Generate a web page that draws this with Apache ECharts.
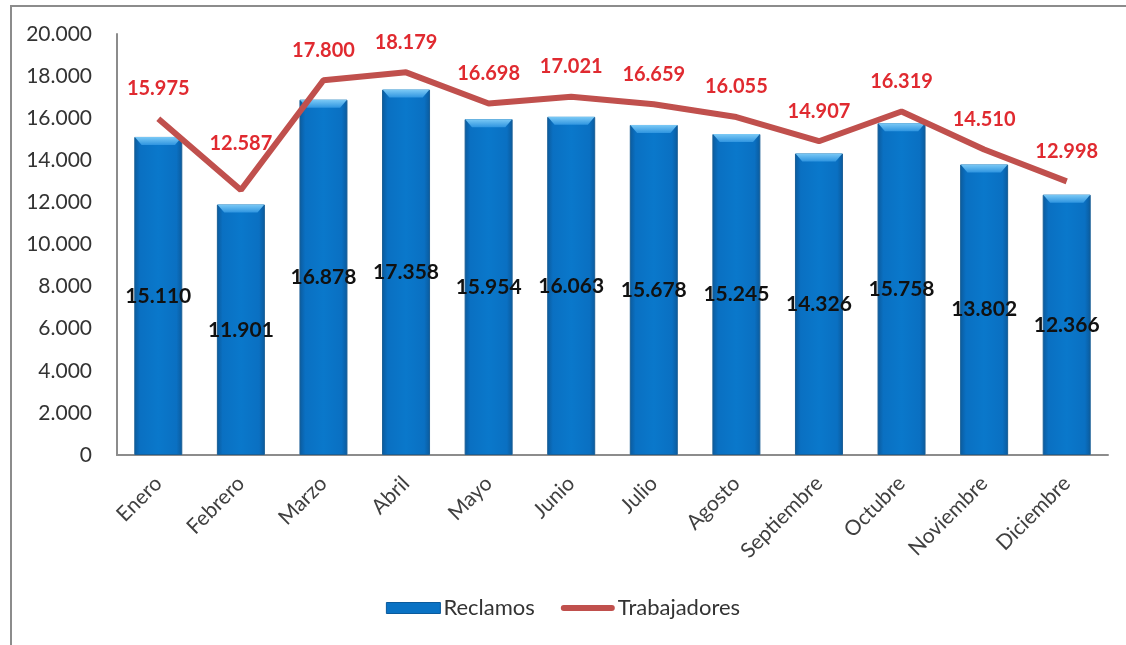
<!DOCTYPE html>
<html>
<head>
<meta charset="utf-8">
<script src="https://cdn.jsdelivr.net/npm/echarts@6/dist/echarts.min.js"></script>
<style>
  html, body { margin: 0; padding: 0; background: #fff; }
  .frame {
    position: absolute; left: 10px; top: 5px; width: 1116px; height: 640px;
    border-left: 2px solid #8c8c8c; border-top: 2px solid #8c8c8c; box-sizing: border-box;
  }
  #main { position: absolute; left: 0; top: 0; width: 1126px; height: 645px; }
</style>
</head>
<body>
<div class="frame"></div>
<div id="main"></div>
<script>
// datos del gráfico
var meses = ['Enero', 'Febrero', 'Marzo', 'Abril', 'Mayo', 'Junio', 'Julio', 'Agosto', 'Septiembre', 'Octubre', 'Noviembre', 'Diciembre']
var reclamos = [15110, 11901, 16878, 17358, 15954, 16063, 15678, 15245, 14326, 15758, 13802, 12366]
var trabajadores = [15975, 12587, 17800, 18179, 16698, 17021, 16659, 16055, 14907, 16319, 14510, 12998]

function fmt(v) {
  return String(v).replace(/\B(?=(\d{3})+(?!\d))/g, '.')
}

var myChart = echarts.init(document.getElementById('main'))

var barColor = new echarts.graphic.LinearGradient(0, 0, 1, 0, [
  { offset: 0, color: '#0b5a9c' },
  { offset: 0.12, color: '#0a70c2' },
  { offset: 0.5, color: '#0a78cb' },
  { offset: 0.88, color: '#0a70c2' },
  { offset: 1, color: '#0b5a9c' },
])

var option = {
  animation: false,
  textStyle: { fontFamily: 'Lato' },
  grid: { left: 117, right: 18, top: 34, bottom: 190 },
  legend: {
    top: 592,
    left: 'center',
    itemGap: 26,
    itemWidth: 54,
    itemHeight: 11,
    textStyle: { fontSize: 22, color: '#333', fontFamily: 'Lato', padding: [0, 0, 0, -2] },
    data: [
      { name: 'Reclamos', icon: 'rect', itemStyle: { color: '#0a72c4', borderColor: '#0b5a9c', borderWidth: 1 } },
      {
        name: 'Trabajadores',
        icon: 'path://M0,0 L0.01,0 L0,0.01 Z M3,2.5 L51,2.5 A3,3 0 0 1 51,8.5 L3,8.5 A3,3 0 0 1 3,2.5 Z M0,11 L0.01,11 L0,10.99 Z',
        itemStyle: { color: '#c0504d' },
      },
    ],
  },
  xAxis: {
    type: 'category',
    data: meses,
    axisLine: { lineStyle: { color: '#8c8c8c', width: 2 } },
    axisTick: { show: false },
    axisLabel: { rotate: 45, fontSize: 21, color: '#404040', margin: 25, interval: 0 },
  },
  yAxis: {
    type: 'value',
    min: 0,
    max: 20000,
    interval: 2000,
    splitLine: { show: false },
    axisLine: { show: true, lineStyle: { color: '#8c8c8c', width: 2 } },
    axisTick: { show: false },
    axisLabel: { fontSize: 21, color: '#333', margin: 25, formatter: fmt },
  },
  series: [
    {
      name: 'Reclamos',
      type: 'bar',
      data: reclamos,
      barWidth: 48,
      itemStyle: { color: barColor, borderColor: '#1a5f96', borderWidth: 1 },
      label: {
        show: true,
        position: 'inside',
        formatter: function (p) { return fmt(p.value) },
        color: '#111',
        fontWeight: 'bold',
        fontSize: 21,
        fontFamily: 'Lato',
      },
    },
    {
      // bisel claro en la parte superior de cada barra
      name: 'bisel',
      type: 'pictorialBar',
      data: reclamos,
      symbol: 'path://M0,0 L48,0 L41,8 L7,8 Z',
      symbolSize: [47, 8],
      symbolPosition: 'end',
      symbolOffset: [0, 0],
      itemStyle: {
        color: new echarts.graphic.LinearGradient(0, 0, 0, 1, [
          { offset: 0, color: '#7ccaf6' },
          { offset: 1, color: '#2f95e0' },
        ]),
      },
      silent: true,
      z: 3,
    },
    {
      name: 'Trabajadores',
      type: 'line',
      data: trabajadores,
      symbol: 'none',
      color: '#c0504d',
      lineStyle: { width: 6, color: '#c0504d' },
      z: 4,
    },
    {
      // etiquetas de la línea
      name: 'etiquetas',
      type: 'scatter',
      data: trabajadores.map(function (v, i) {
        // la etiqueta de febrero va más arriba
        return i === 1 ? { value: v, label: { distance: 36 } } : v
      }),
      symbolSize: 0,
      itemStyle: { opacity: 1 },
      label: {
        show: true,
        position: 'top',
        distance: 20,
        formatter: function (p) { return fmt(p.value) },
        color: '#e02a30',
        opacity: 1,
        fontWeight: 'bold',
        fontSize: 20,
        fontFamily: 'Lato',
      },
      z: 5,
    },
  ],
}

myChart.setOption(option)
</script>
</body>
</html>
